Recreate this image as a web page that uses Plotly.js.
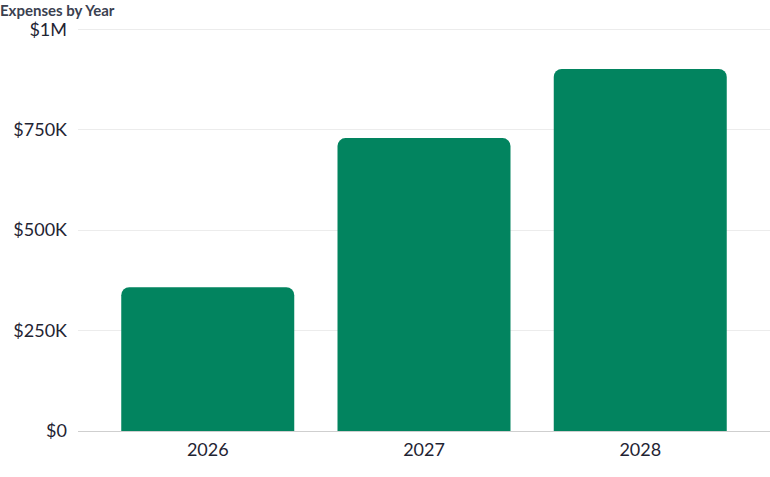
<!DOCTYPE html>
<html>
<head>
<meta charset="utf-8">
<script src="https://cdn.plot.ly/plotly-3.0.1.min.js"></script>
<style>
  html, body { margin: 0; padding: 0; background: #fff; }
  #chart { width: 770px; height: 477px; }
</style>
</head>
<body>
<div id="chart"></div>
<script>
// chart data
var years = ['2026', '2027', '2028'];
var expenses = [358000, 729000, 901000];
var tickValues = [0, 250000, 500000, 750000, 1000000];
var tickLabels = ['$0', '$250K', '$500K', '$750K', '$1M'];

var trace = {
  x: years,
  y: expenses,
  type: 'bar',
  marker: {
    color: '#02845f',
    cornerradius: 8
  },
  hoverinfo: 'x+y'
};

var layout = {
  width: 770,
  height: 477,
  paper_bgcolor: '#ffffff',
  plot_bgcolor: '#ffffff',
  font: { family: 'Lato, "Noto Sans", sans-serif', color: '#1f2433' },
  title: {
    text: 'Expenses by Year',
    x: 0,
    xref: 'container',
    xanchor: 'left',
    y: 0.988,
    yref: 'container',
    yanchor: 'top',
    pad: { l: 0, t: 0 },
    font: { size: 15, color: '#3b4150', weight: 700 }
  },
  margin: { l: 78, r: 0, t: 28, b: 46 },
  bargap: 0.2,
  showlegend: false,
  xaxis: {
    type: 'category',
    range: [-0.6, 2.6],
    showgrid: false,
    zeroline: false,
    showline: false,
    ticks: '',
    ticklabelstandoff: 6,
    tickfont: { size: 18, color: '#1f2433' },
    fixedrange: true
  },
  yaxis: {
    range: [0, 1003000],
    tickvals: tickValues,
    ticktext: tickLabels,
    showgrid: true,
    gridcolor: '#ececec',
    gridwidth: 1,
    zeroline: true,
    zerolinecolor: '#cfcfcf',
    zerolinewidth: 1,
    showline: false,
    ticks: '',
    ticklabelstandoff: 10,
    tickfont: { size: 18, color: '#1f2433' },
    fixedrange: true
  }
};

Plotly.newPlot('chart', [trace], layout, { displayModeBar: false, staticPlot: true });
</script>
</body>
</html>
